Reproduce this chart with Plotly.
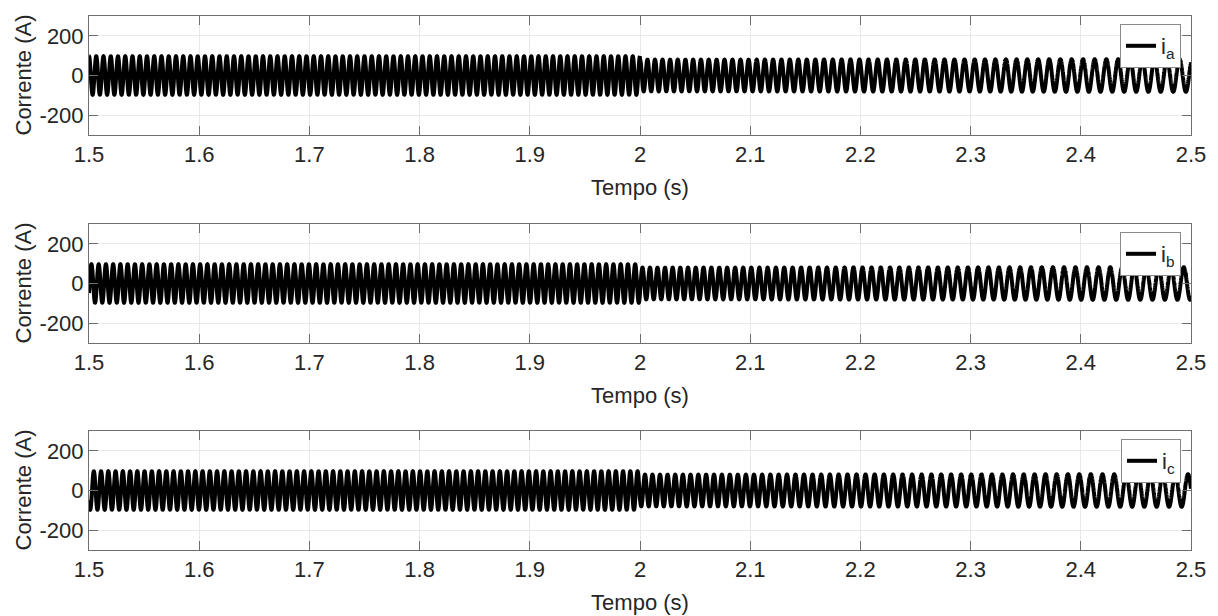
import numpy as np
import plotly.graph_objects as go

# Envelope readings for the three phase currents (time in s)
knot_time = [1.5, 1.9999, 2.0, 2.1, 2.2, 2.3, 2.4, 2.5]
knot_freq_hz = [152, 152, 148, 136, 122, 108, 96, 86]
knot_amp_a = [97, 97, 80, 80, 81, 81, 82, 82]

phase_names = ["i<sub>a</sub>", "i<sub>b</sub>", "i<sub>c</sub>"]
phase_shift_deg = [0, -120, 120]

x_ticks = [1.5, 1.6, 1.7, 1.8, 1.9, 2.0, 2.1, 2.2, 2.3, 2.4, 2.5]
x_tick_text = ["1.5", "1.6", "1.7", "1.8", "1.9", "2", "2.1", "2.2", "2.3", "2.4", "2.5"]
y_ticks = [-200, 0, 200]
y_tick_text = ["-200", "0", "200"]

t = np.linspace(1.5, 2.5, 20001)
f_inst = np.interp(t, knot_time, knot_freq_hz)
amp = np.interp(t, knot_time, knot_amp_a)
theta = 2 * np.pi * np.concatenate([[0], np.cumsum(0.5 * (f_inst[1:] + f_inst[:-1]) * np.diff(t))])

W, H = 1218, 616
left, right = 89, 1191
tops = [16, 224, 431]
plot_h = 119

FONT = "Liberation Sans, Arial, sans-serif"
FS = 22
TXT = "#262626"
AX = "#6f6f6f"

fig = go.Figure()
legend_keys = ["legend", "legend2", "legend3"]
annotations = []
layout = dict(
    width=W, height=H,
    margin=dict(l=0, r=0, t=0, b=0, autoexpand=False),
    paper_bgcolor="white", plot_bgcolor="white",
    font=dict(family=FONT, size=FS, color=TXT),
)

for k in range(3):
    sfx = "" if k == 0 else str(k + 1)
    current = amp * np.cos(theta + np.deg2rad(phase_shift_deg[k]))
    fig.add_trace(go.Scatter(
        x=t, y=current, mode="lines",
        line=dict(color="black", width=4, simplify=False),
        name=phase_names[k],
        xaxis="x" + sfx, yaxis="y" + sfx,
        legend=legend_keys[k],
        showlegend=True,
    ))
    top = tops[k]
    y1 = 1 - top / H
    y0 = 1 - (top + plot_h) / H
    layout["xaxis" + sfx] = dict(
        domain=[left / W, right / W], range=[1.5, 2.5], anchor="y" + sfx,
        automargin=False,
        tickmode="array", tickvals=x_ticks, ticktext=x_tick_text,
        ticks="inside", ticklen=9, tickcolor=AX, tickwidth=1,
        showline=True, linecolor=AX, linewidth=1, mirror="ticks",
        showgrid=True, gridcolor="#e8e8e8", gridwidth=1, zeroline=False,
        tickfont=dict(size=FS, color=TXT),
        title=dict(text="Tempo (s)", font=dict(size=FS, color=TXT), standoff=13),
    )
    layout["yaxis" + sfx] = dict(
        domain=[y0, y1], range=[-300, 300], anchor="x" + sfx,
        automargin=False,
        tickmode="array", tickvals=y_ticks, ticktext=y_tick_text,
        ticks="inside", ticklen=9, tickcolor=AX, tickwidth=1,
        showline=True, linecolor=AX, linewidth=1, mirror="ticks",
        showgrid=True, gridcolor="#e8e8e8", gridwidth=1, zeroline=False,
        tickfont=dict(size=FS, color=TXT),
    )
    annotations.append(dict(
        text="Corrente (A)", textangle=-90,
        xref="paper", yref="paper", x=23 / W, y=(y0 + y1) / 2,
        xanchor="center", yanchor="middle", showarrow=False,
        font=dict(size=FS, color=TXT),
    ))
    layout[legend_keys[k]] = dict(
        x=1181 / W, y=1 - (top + 8) / H, xanchor="right", yanchor="top",
        bgcolor="white", bordercolor="#8a8a8a", borderwidth=1,
        font=dict(size=FS, color=TXT), itemwidth=30,
        tracegroupgap=0,
    )

layout["annotations"] = annotations
fig.update_layout(**layout)
fig.write_html("out.html")
